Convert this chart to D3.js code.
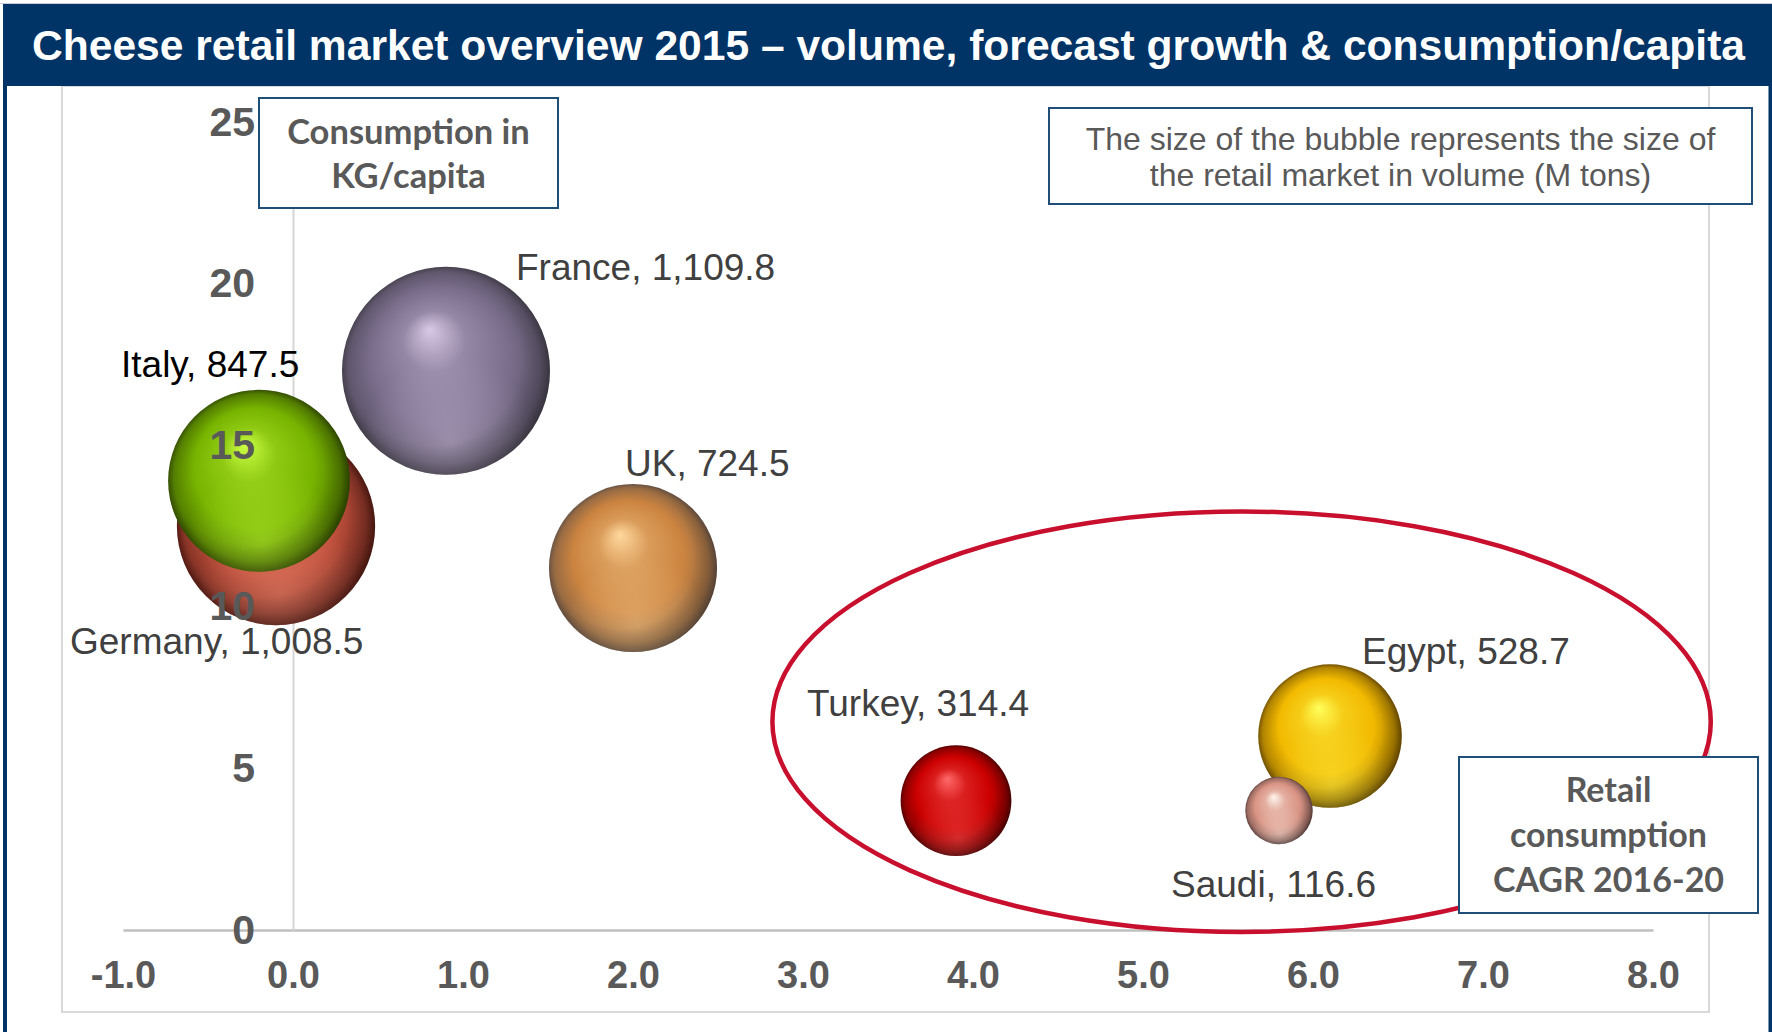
<!DOCTYPE html>
<html>
<head>
<meta charset="utf-8">
<script src="https://cdn.jsdelivr.net/npm/d3@7"></script>
<style>
  html, body { margin: 0; padding: 0; background: #fff; }
  svg { display: block; }
</style>
</head>
<body>
<svg id="chart" width="1772" height="1032"></svg>
<script>
// ---- Data ----
const countries     = ["France", "Germany", "Italy", "UK", "Turkey", "Egypt", "Saudi"];
const cagr          = [0.9, -0.1, -0.2, 2.0, 3.9, 6.1, 5.8];       // retail consumption CAGR 2016-20 (%)
const kgPerCapita   = [17.3, 12.5, 13.9, 11.2, 4.0, 6.0, 3.7];     // consumption in kg per capita
const retailVolume  = [1109.8, 1008.5, 847.5, 724.5, 314.4, 528.7, 116.6]; // retail market volume
const xTicks        = [-1, 0, 1, 2, 3, 4, 5, 6, 7, 8];
const yTicks        = [0, 5, 10, 15, 20, 25];

const titleText  = "Cheese retail market overview 2015 \u2013 volume, forecast growth & consumption/capita";
const sizeNote   = ["The size of the bubble represents the size of", "the retail market in volume (M tons)"];
const yNote      = ["Consumption in", "KG/capita"];
const xNote      = ["Retail", "consumption", "CAGR 2016-20"];

// ---- Styling ----
const palette = {
  France:  { hi: "#d8cae6", base: "#7b6e8d", dark: "#4a4452" },
  Germany: { hi: "#f4967e", base: "#c0503c", dark: "#5a1d15" },
  Italy:   { hi: "#ccff44", base: "#77b400", dark: "#385400" },
  UK:      { hi: "#ffd89e", base: "#cc8440", dark: "#6e5646" },
  Turkey:  { hi: "#ff6a6a", base: "#cc0000", dark: "#5c0000" },
  Egypt:   { hi: "#ffff5a", base: "#f2ba00", dark: "#7c5800" },
  Saudi:   { hi: "#fff6ee", base: "#d99484", dark: "#6a4a46" }
};
// label anchor offsets (px) from each bubble centre, text starts here
const labelOffset = {
  France:  { dx: 70,   dy: -104, color: "#404040" },
  Germany: { dx: -206, dy: 115,  color: "#404040" },
  Italy:   { dx: -138, dy: -117, color: "#000000" },
  UK:      { dx: -8,   dy: -105, color: "#404040" },
  Turkey:  { dx: -149, dy: -98,  color: "#404040" },
  Egypt:   { dx: 32,   dy: -85,  color: "#404040" },
  Saudi:   { dx: -108, dy: 73,   color: "#404040" }
};

const W = 1772, H = 1032;
const navy = "#003366";
const axisGray = "#595959";

const svg = d3.select("#chart");
const defs = svg.append("defs");

// ---- Scales ----
const x = d3.scaleLinear().domain([-1, 8]).range([123, 1653]);
const y = d3.scaleLinear().domain([0, 25]).range([930, 122]);
const r = d3.scaleSqrt().domain([0, d3.max(retailVolume)]).range([0, 104]);

const rows = countries.map((c, i) => ({
  name: c, x: cagr[i], y: kgPerCapita[i], v: retailVolume[i]
}));

// ---- Frame ----
svg.append("rect").attr("width", W).attr("height", H).attr("fill", "#fff");
svg.append("rect")
  .attr("x", 62).attr("y", 86).attr("width", 1647).attr("height", 926)
  .attr("fill", "none").attr("stroke", "#d9d9d9").attr("stroke-width", 2);
svg.append("rect").attr("x", 3).attr("y", 4).attr("width", 4).attr("height", H - 4).attr("fill", navy);
svg.append("rect").attr("x", 1768.5).attr("y", 4).attr("width", 3.5).attr("height", H - 4).attr("fill", navy);
svg.append("line").attr("x1", 0).attr("x2", W).attr("y1", 3.5).attr("y2", 3.5)
  .attr("stroke", "#c8cdd6").attr("stroke-width", 1);

// Title bar
svg.append("rect").attr("x", 3).attr("y", 4).attr("width", W - 3).attr("height", 82).attr("fill", navy);
svg.append("text")
  .attr("x", 32).attr("y", 60)
  .attr("textLength", 1713).attr("lengthAdjust", "spacingAndGlyphs")
  .attr("font-family", "Liberation Sans, Arial, sans-serif")
  .attr("font-weight", "bold").attr("font-size", 42.5)
  .attr("fill", "#fff")
  .text(titleText);

// ---- Axes (lines behind the bubbles) ----
const xAxis = svg.append("g")
  .attr("transform", `translate(0,${y(0)})`)
  .call(d3.axisBottom(x).tickValues(xTicks).tickSize(0).tickSizeOuter(0).tickPadding(31)
    .tickFormat(d => d.toFixed(1)));
xAxis.select(".domain").attr("stroke", "#bfbfbf").attr("stroke-width", 2.5);
xAxis.selectAll("text")
  .attr("font-family", "Liberation Sans, Arial, sans-serif")
  .attr("font-weight", "bold").attr("font-size", 38).attr("fill", axisGray);

const yDomain = svg.append("g")
  .attr("transform", `translate(${x(0)},0)`)
  .call(d3.axisLeft(y).tickValues(yTicks).tickSize(0).tickSizeOuter(0));
yDomain.selectAll(".tick").remove();
yDomain.select(".domain").attr("stroke", "#d6d6d6").attr("stroke-width", 2);

// ---- Bubble shading ----
rows.forEach(d => {
  const p = palette[d.name];
  const g = defs.append("radialGradient")
    .attr("id", `ball-${d.name}`)
    .attr("cx", "50%").attr("cy", "50%").attr("r", "50%")
    .attr("fx", "42%").attr("fy", "30%");
  g.append("stop").attr("offset", "0%").attr("stop-color", p.hi);
  g.append("stop").attr("offset", "30%").attr("stop-color", d3.interpolateRgb(p.hi, p.base)(0.72));
  g.append("stop").attr("offset", "66%").attr("stop-color", p.base);
  g.append("stop").attr("offset", "92%").attr("stop-color", d3.interpolateRgb(p.base, p.dark)(0.55));
  g.append("stop").attr("offset", "100%").attr("stop-color", p.dark);

  const glow = defs.append("radialGradient")
    .attr("id", `glow-${d.name}`)
    .attr("cx", "52%").attr("cy", "84%").attr("r", "42%");
  glow.append("stop").attr("offset", "0%").attr("stop-color", p.hi).attr("stop-opacity", 0.4);
  glow.append("stop").attr("offset", "100%").attr("stop-color", p.hi).attr("stop-opacity", 0);
});
const rim = defs.append("radialGradient").attr("id", "rim")
  .attr("cx", "44%").attr("cy", "44%").attr("r", "58%");
rim.append("stop").attr("offset", "72%").attr("stop-color", "#000").attr("stop-opacity", 0);
rim.append("stop").attr("offset", "100%").attr("stop-color", "#000").attr("stop-opacity", 0.25);

// Largest bubbles first so smaller ones sit on top
const ordered = rows.slice().sort((a, b) => b.v - a.v);
const bubbles = svg.append("g").selectAll("g").data(ordered).join("g")
  .attr("transform", d => `translate(${x(d.x)},${y(d.y)})`);
bubbles.append("circle").attr("r", d => r(d.v)).attr("fill", d => `url(#ball-${d.name})`);
bubbles.append("circle").attr("r", d => r(d.v)).attr("fill", d => `url(#glow-${d.name})`);
bubbles.append("circle").attr("r", d => r(d.v)).attr("fill", "url(#rim)");

// ---- Data labels ----
const fmt = d3.format(",.1f");
svg.append("g").selectAll("text").data(rows).join("text")
  .attr("x", d => x(d.x) + labelOffset[d.name].dx)
  .attr("y", d => y(d.y) + labelOffset[d.name].dy)
  .attr("dy", "0.36em")
  .attr("font-family", "Liberation Sans, Arial, sans-serif")
  .attr("font-size", 37)
  .attr("fill", d => labelOffset[d.name].color)
  .text(d => `${d.name}, ${fmt(d.v)}`);

// ---- Y tick labels (drawn above the bubbles) ----
const yLabels = svg.append("g")
  .attr("transform", `translate(${x(0)},0)`)
  .call(d3.axisLeft(y).tickValues(yTicks).tickSize(0).tickPadding(38).tickFormat(d3.format("d")));
yLabels.select(".domain").remove();
yLabels.selectAll("text")
  .attr("font-family", "Liberation Sans, Arial, sans-serif")
  .attr("font-weight", "bold").attr("font-size", 41).attr("fill", axisGray);

// ---- Highlight ring around the high-growth markets ----
const ring = { x0: 2.82, x1: 8.34, y0: -0.06, y1: 12.95 };
svg.append("ellipse")
  .attr("cx", (x(ring.x0) + x(ring.x1)) / 2)
  .attr("cy", (y(ring.y0) + y(ring.y1)) / 2)
  .attr("rx", (x(ring.x1) - x(ring.x0)) / 2)
  .attr("ry", (y(ring.y0) - y(ring.y1)) / 2)
  .attr("fill", "none").attr("stroke", "#c8102e").attr("stroke-width", 4.5);

// ---- Note boxes ----
function noteBox(bx, by, bw, bh, lines, opts) {
  const g = svg.append("g");
  g.append("rect").attr("x", bx).attr("y", by).attr("width", bw).attr("height", bh)
    .attr("fill", "#fff").attr("stroke", "#1f4e79").attr("stroke-width", 2);
  g.selectAll("text").data(lines).join("text")
    .attr("x", bx + bw / 2)
    .attr("y", (d, i) => opts.firstBaseline + i * opts.lineGap)
    .attr("text-anchor", "middle")
    .attr("font-family", opts.family)
    .attr("font-weight", opts.weight)
    .attr("font-size", opts.size)
    .attr("fill", axisGray)
    .text(d => d);
}
noteBox(259, 98, 299, 110, yNote,
  { firstBaseline: 144, lineGap: 44, family: "Lato, Carlito, Calibri, sans-serif", weight: "bold", size: 34.5 });
noteBox(1049, 108, 703, 96, sizeNote,
  { firstBaseline: 150, lineGap: 36, family: "Liberation Sans, Arial, sans-serif", weight: "normal", size: 32 });
noteBox(1459, 757, 299, 156, xNote,
  { firstBaseline: 802, lineGap: 45, family: "Lato, Carlito, Calibri, sans-serif", weight: "bold", size: 34 });
</script>
</body>
</html>
